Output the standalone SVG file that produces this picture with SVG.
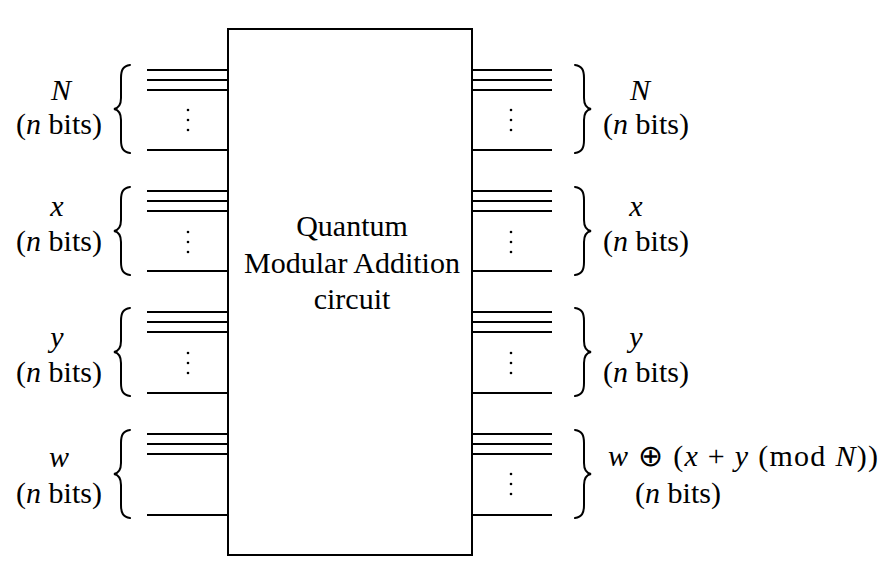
<svg xmlns="http://www.w3.org/2000/svg" width="888" height="568" viewBox="0 0 888 568">
<defs>
<style>
.w{stroke:#000;stroke-width:2;fill:none}
.br{stroke:#000;stroke-width:2;fill:none;stroke-linecap:round}
.t{font-family:"Liberation Serif","Times New Roman",serif;font-size:30px;fill:#000}
.i{font-style:italic}
.c{text-anchor:middle}
.d{fill:#000}
</style>
<path id="lb" d="M16,0 C9,1 7,5 7,13 L7,33 C7,40 5,43 0,44 C5,45 7,48 7,55 L7,75 C7,83 9,87 16,88"/>
<path id="rb" d="M0,0 C7,1 9,5 9,13 L9,33 C9,40 11,43 16,44 C11,45 9,48 9,55 L9,75 C9,83 7,87 0,88"/>
<g id="dots"><circle cx="0" cy="0" r="1.3"/><circle cx="0" cy="10" r="1.3"/><circle cx="0" cy="20" r="1.3"/></g>
</defs>
<rect width="888" height="568" fill="#fff"/>
<g id="box">
<rect x="228" y="29" width="244" height="526" class="w"/>
<text class="t c" x="352" y="236">Quantum</text>
<text class="t c" x="352" y="273">Modular Addition</text>
<text class="t c" x="352" y="309">circuit</text>
</g>
<g id="wires">
<path class="w" d="M147,70H228M147,80H228M147,90H228M147,150H228"/>
<path class="w" d="M147,191H228M147,201H228M147,211H228M147,271H228"/>
<path class="w" d="M147,312H228M147,322H228M147,332H228M147,393H228"/>
<path class="w" d="M147,434H228M147,444H228M147,454H228M147,515H228"/>
<path class="w" d="M472,70H552M472,80H552M472,90H552M472,150H552"/>
<path class="w" d="M472,191H552M472,201H552M472,211H552M472,271H552"/>
<path class="w" d="M472,312H552M472,322H552M472,332H552M472,393H552"/>
<path class="w" d="M472,434H552M472,444H552M472,454H552M472,515H552"/>
<g class="d">
<use href="#dots" x="188" y="110"/>
<use href="#dots" x="188" y="232"/>
<use href="#dots" x="188" y="353"/>
<use href="#dots" x="511" y="110"/>
<use href="#dots" x="511" y="232"/>
<use href="#dots" x="511" y="353"/>
<use href="#dots" x="511" y="474"/>
</g>
</g>
<g id="in-N">
<use href="#lb" class="br" x="114" y="65"/>
<text class="t c i" x="61" y="100">N</text>
<text class="t c" x="59" y="134">(<tspan class="i">n</tspan> bits)</text>
</g>
<g id="in-x">
<use href="#lb" class="br" x="114" y="187"/>
<text class="t c i" x="57" y="216">x</text>
<text class="t c" x="59" y="251">(<tspan class="i">n</tspan> bits)</text>
</g>
<g id="in-y">
<use href="#lb" class="br" x="114" y="308"/>
<text class="t c i" x="57" y="347">y</text>
<text class="t c" x="59" y="382">(<tspan class="i">n</tspan> bits)</text>
</g>
<g id="in-w">
<use href="#lb" class="br" x="114" y="430"/>
<text class="t c i" x="59" y="467">w</text>
<text class="t c" x="59" y="503">(<tspan class="i">n</tspan> bits)</text>
</g>
<g id="out-N">
<use href="#rb" class="br" x="575" y="65"/>
<text class="t c i" x="640" y="100">N</text>
<text class="t c" x="646" y="134">(<tspan class="i">n</tspan> bits)</text>
</g>
<g id="out-x">
<use href="#rb" class="br" x="575" y="187"/>
<text class="t c i" x="636" y="216">x</text>
<text class="t c" x="646" y="251">(<tspan class="i">n</tspan> bits)</text>
</g>
<g id="out-y">
<use href="#rb" class="br" x="575" y="308"/>
<text class="t c i" x="636" y="347">y</text>
<text class="t c" x="646" y="382">(<tspan class="i">n</tspan> bits)</text>
</g>
<g id="out-w">
<use href="#rb" class="br" x="575" y="430"/>
<text class="t" x="608" y="466" textLength="270" lengthAdjust="spacing"><tspan class="i">w</tspan> ⊕ (<tspan class="i">x</tspan> + <tspan class="i">y</tspan> (mod <tspan class="i">N</tspan>))</text>
<text class="t c" x="678" y="503">(<tspan class="i">n</tspan> bits)</text>
</g>
</svg>
